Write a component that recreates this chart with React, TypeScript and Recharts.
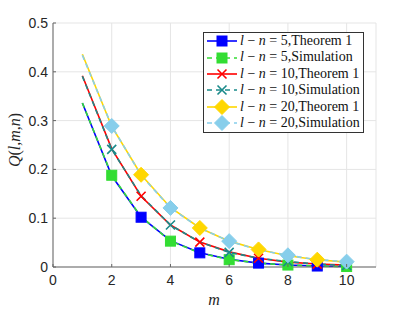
import React from 'react';
import { LineChart, Line, XAxis, YAxis, CartesianGrid } from 'recharts';

const mValues = [1, 2, 3, 4, 5, 6, 7, 8, 9, 10];
const theorem5 = [0.336, 0.187, 0.102, 0.054, 0.029, 0.016, 0.008, 0.004, 0.002, 0.001];
const sim5 = [0.336, 0.188, 0.103, 0.053, 0.029, 0.015, 0.008, 0.004, 0.002, 0.001];
const theorem10 = [0.392, 0.242, 0.145, 0.086, 0.051, 0.031, 0.018, 0.010, 0.006, 0.004];
const sim10 = [0.391, 0.241, 0.146, 0.086, 0.051, 0.030, 0.018, 0.011, 0.006, 0.003];
const theorem20 = [0.436, 0.288, 0.189, 0.122, 0.080, 0.053, 0.036, 0.023, 0.015, 0.010];
const sim20 = [0.434, 0.289, 0.188, 0.121, 0.080, 0.053, 0.035, 0.024, 0.015, 0.011];
const xTicks = [0, 2, 4, 6, 8, 10];
const yTicks = [0, 0.1, 0.2, 0.3, 0.4, 0.5];

const data = mValues.map((m, i) => ({
  m,
  t5: theorem5[i],
  s5: sim5[i],
  t10: theorem10[i],
  s10: sim10[i],
  t20: theorem20[i],
  s20: sim20[i],
}));

type MarkerKind = 'square' | 'x' | 'diamond';

interface SeriesDef {
  key: string;
  gap: string;
  label: string;
  color: string;
  marker: MarkerKind;
  dashed: boolean;
  oddMarks: boolean;
}

const series: SeriesDef[] = [
  { key: 't5', gap: '5', label: 'Theorem 1', color: '#0000ff', marker: 'square', dashed: false, oddMarks: true },
  { key: 's5', gap: '5', label: 'Simulation', color: '#33dd33', marker: 'square', dashed: true, oddMarks: false },
  { key: 't10', gap: '10', label: 'Theorem 1', color: '#ff0000', marker: 'x', dashed: false, oddMarks: true },
  { key: 's10', gap: '10', label: 'Simulation', color: '#1a8a8a', marker: 'x', dashed: true, oddMarks: false },
  { key: 't20', gap: '20', label: 'Theorem 1', color: '#ffd700', marker: 'diamond', dashed: false, oddMarks: true },
  { key: 's20', gap: '20', label: 'Simulation', color: '#87ceeb', marker: 'diamond', dashed: true, oddMarks: false },
];

const serif = '"Liberation Serif", "DejaVu Serif", serif';
const sans = '"Liberation Sans", Arial, sans-serif';
const axisGray = '#666';

function Marker({ kind, x, y, color }: { kind: MarkerKind; x: number; y: number; color: string }) {
  if (kind === 'square') {
    return <rect x={x - 5} y={y - 5} width={10} height={10} fill={color} stroke={color} />;
  }
  if (kind === 'diamond') {
    return <polygon points={`${x},${y - 7.5} ${x + 7.5},${y} ${x},${y + 7.5} ${x - 7.5},${y}`} fill={color} stroke={color} />;
  }
  return (
    <path d={`M${x - 4.5},${y - 4.5}L${x + 4.5},${y + 4.5}M${x - 4.5},${y + 4.5}L${x + 4.5},${y - 4.5}`} stroke={color} strokeWidth={1.6} fill="none" />
  );
}

function makeDot(s: SeriesDef) {
  return (props: any) => {
    const { cx, cy, payload, index } = props;
    const odd = payload.m % 2 === 1;
    if (odd !== s.oddMarks || payload.m === 1) return <g key={`${s.key}-${index}`} />;
    return (
      <g key={`${s.key}-${index}`}>
        <Marker kind={s.marker} x={cx} y={cy} color={s.color} />
      </g>
    );
  };
}

// ticks point into the plot, MATLAB style
function XTick(props: any) {
  const { x, y, payload } = props;
  const axisY = y - 6;
  return (
    <g>
      <line x1={x} y1={axisY} x2={x} y2={axisY - 3} stroke={axisGray} />
      <text x={x} y={y + 12} textAnchor="middle" fill="#262626" fontFamily={sans} fontSize={14}>
        {payload.value}
      </text>
    </g>
  );
}

function YTick(props: any) {
  const { x, y, payload } = props;
  const axisX = x + 5;
  return (
    <g>
      <line x1={axisX} y1={y} x2={axisX + 3} y2={y} stroke={axisGray} />
      <text x={x} y={y + 5} textAnchor="end" fill="#262626" fontFamily={sans} fontSize={14}>
        {payload.value}
      </text>
    </g>
  );
}

function LegendBox() {
  return (
    <div
      style={{
        position: 'absolute',
        left: 203,
        top: 32,
        background: '#fff',
        border: '1px solid #333',
        padding: '0px 3px 1px 2px',
        fontFamily: serif,
        fontSize: 14,
        color: '#111',
        lineHeight: '16.4px',
      }}
    >
      {series.map((s) => (
        <div key={s.key} style={{ display: 'flex', alignItems: 'center', whiteSpace: 'nowrap' }}>
          <svg width={32} height={16} style={{ flex: 'none' }}>
            <line x1={1} y1={8} x2={31} y2={8} stroke={s.color} strokeWidth={1.6} strokeDasharray={s.dashed ? '5 4' : undefined} />
            <Marker kind={s.marker} x={16} y={8} color={s.color} />
          </svg>
          <span style={{ marginLeft: 2 }}>
            <i>l</i> − <i>n</i> = {s.gap},{s.label}
          </span>
        </div>
      ))}
    </div>
  );
}

export default function App() {
  return (
    <div style={{ position: 'absolute', left: 0, top: 0, width: 415, height: 312, background: '#fff' }}>
      <LineChart width={415} height={312} data={data} margin={{ top: 23, right: 39, left: 21, bottom: 15 }}>
        <CartesianGrid stroke="#e5e5e5" strokeWidth={1} />
        <XAxis
          dataKey="m"
          type="number"
          domain={[0, 11]}
          ticks={xTicks}
          allowDataOverflow
          stroke={axisGray}
          tickLine={false}
          tickSize={0}
          tickMargin={6}
          tick={<XTick />}
          height={30}
        />
        <YAxis
          type="number"
          domain={[0, 0.5]}
          ticks={yTicks}
          stroke={axisGray}
          tickLine={false}
          tickSize={0}
          tickMargin={5}
          tick={<YTick />}
          width={32}
        />
        {series.map((s) => (
          <Line
            key={s.key}
            dataKey={s.key}
            type="linear"
            stroke={s.color}
            strokeWidth={1.6}
            strokeDasharray={s.dashed ? '5 4' : undefined}
            dot={makeDot(s)}
            activeDot={false}
            isAnimationActive={false}
          />
        ))}
        <text x={214} y={305} fontFamily={serif} fontStyle="italic" fontSize={16} fill="#262626" textAnchor="middle">
          m
        </text>
        <text
          x={0}
          y={0}
          transform="translate(20,140) rotate(-90)"
          fontFamily={serif}
          fontSize={16}
          fill="#262626"
          textAnchor="middle"
        >
          <tspan fontStyle="italic">Q</tspan>(<tspan fontStyle="italic">l</tspan>,<tspan fontStyle="italic">m</tspan>,<tspan fontStyle="italic">n</tspan>)
        </text>
      </LineChart>
      <LegendBox />
    </div>
  );
}
